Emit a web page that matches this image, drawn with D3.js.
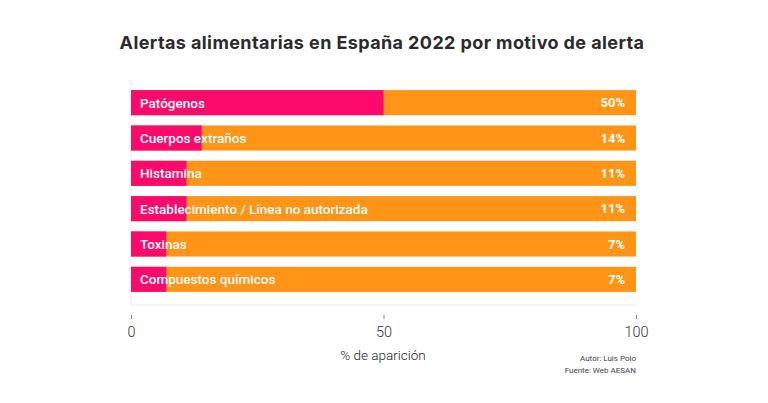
<!DOCTYPE html>
<html><head><meta charset="utf-8">
<script src="https://cdn.jsdelivr.net/npm/d3@7"></script>
<style>body{margin:0;background:#fff}svg{display:block}</style>
</head><body>
<script>
const categories = ["Patógenos","Cuerpos extraños","Histamina","Establecimiento / Línea no autorizada","Toxinas","Compuestos químicos"];
const values = [50,14,11,11,7,7];
const tickValues = [0,50,100];

const W=768,H=403;
const svg=d3.select("body").append("svg").attr("width",W).attr("height",H);
const x=d3.scaleLinear().domain([0,100]).range([131,636]);
const y=d3.scaleBand().domain(categories).range([85,297]).paddingInner(0.29).paddingOuter(0.145);

svg.append("text").attr("x",382).attr("y",49).attr("text-anchor","middle")
  .attr("font-family","Inter, 'Open Sans', sans-serif").attr("font-weight",700)
  .attr("font-size",18).attr("letter-spacing",0.4).attr("fill","#2b2b2b").text("Alertas alimentarias en España 2022 por motivo de alerta");

// faint frame
svg.append("path").attr("d",`M${x(0)},80V305H${x(100)}`).attr("fill","none").attr("stroke","#ececec").attr("stroke-width",1);

const g=svg.append("g");
g.selectAll("rect.bg").data(categories).join("rect").attr("class","bg")
  .attr("x",x(0)).attr("y",d=>y(d)).attr("width",x(100)-x(0)).attr("height",y.bandwidth()).attr("fill","#ff9416");
g.selectAll("rect.v").data(values).join("rect").attr("class","v")
  .attr("x",x(0)).attr("y",(d,i)=>y(categories[i])).attr("width",d=>x(d)-x(0)).attr("height",y.bandwidth()).attr("fill","#fb0a6c");
g.selectAll("text.lab").data(categories).join("text").attr("class","lab")
  .attr("x",x(0)+9).attr("y",d=>y(d)+y.bandwidth()/2).attr("dy","0.36em")
  .attr("font-family","Roboto, sans-serif").attr("font-weight",500).attr("font-size",13.5).attr("fill","#fff").text(d=>d);
g.selectAll("text.val").data(values).join("text").attr("class","val")
  .attr("x",x(100)-11).attr("y",(d,i)=>y(categories[i])+y.bandwidth()/2).attr("dy","0.36em").attr("text-anchor","end")
  .attr("font-family","Roboto, sans-serif").attr("font-weight",700).attr("font-size",13).attr("fill","#fff").text(d=>d+"%");

const ax=svg.append("g").attr("transform","translate(0,315)")
  .call(d3.axisBottom(x).tickValues(tickValues).tickSize(4).tickPadding(8).tickFormat(d3.format("d")));
ax.select(".domain").remove();
ax.selectAll(".tick line").attr("stroke","#888");
ax.selectAll(".tick text").attr("font-family","Roboto, sans-serif").attr("font-weight",300).attr("font-size",14.5).attr("fill","#333");

svg.append("text").attr("x",383).attr("y",360).attr("text-anchor","middle")
  .attr("font-family","Roboto, sans-serif").attr("font-weight",300).attr("font-size",13.5).attr("fill","#222").text("% de aparición");
svg.append("text").attr("x",636).attr("y",361).attr("text-anchor","end")
  .attr("font-family","Roboto, sans-serif").attr("font-size",8).attr("fill","#444").text("Autor: Luis Polo");
svg.append("text").attr("x",636).attr("y",373).attr("text-anchor","end")
  .attr("font-family","Roboto, sans-serif").attr("font-size",8).attr("fill","#444").text("Fuente: Web AESAN");
</script>
</body></html>
